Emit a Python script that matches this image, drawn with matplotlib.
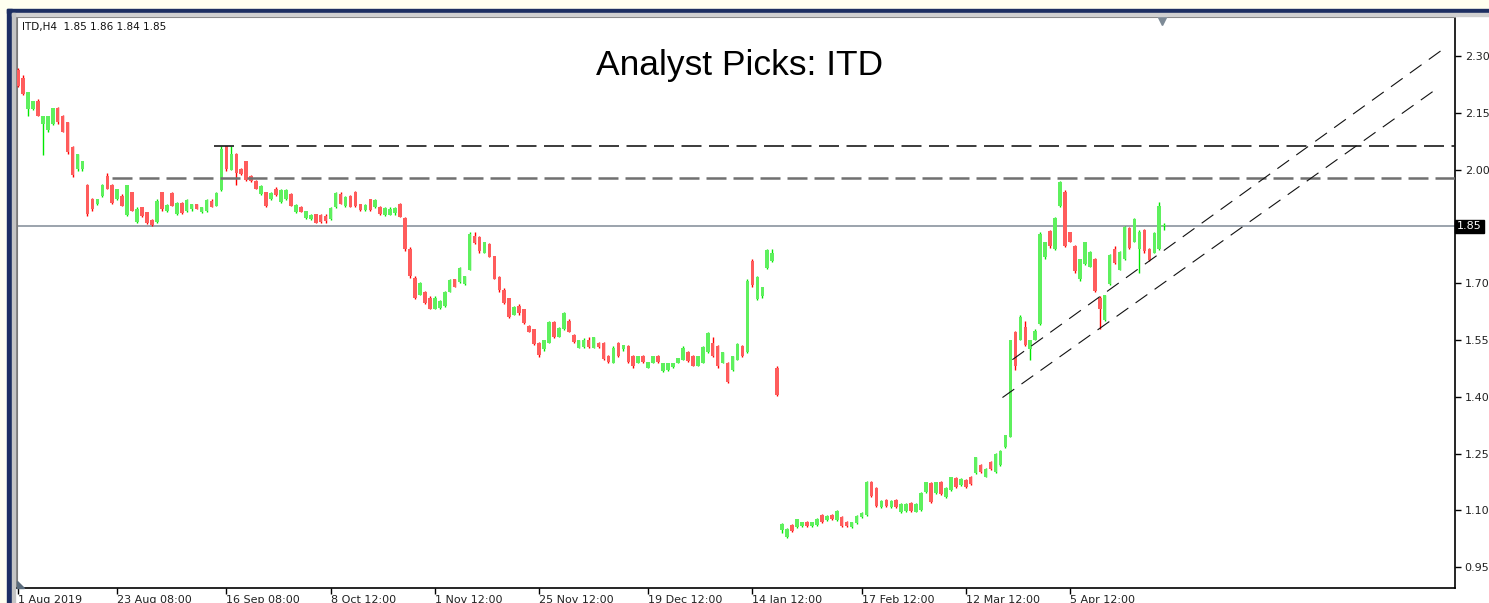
# ITD H4 candlestick chart - MT4 style "Analyst Picks"
import numpy as np
import matplotlib.pyplot as plt
import matplotlib.transforms as mtransforms
from matplotlib.patches import Rectangle, Polygon

opens = [2.263, 2.242, 2.160, 2.160, 2.181, 2.120, 2.104, 2.120, 2.162, 2.141,
         2.125, 2.059, 2.001, 2.001, 1.959, 1.922, 1.908, 1.930, 1.982, 1.959,
         1.922, 1.930, 1.879, 1.940, 1.861, 1.900, 1.887, 1.866, 1.861, 1.940,
         1.890, 1.938, 1.882, 1.912, 1.890, 1.895, 1.908, 1.887, 1.890, 1.918,
         1.905, 1.945, 2.062, 2.000, 2.041, 2.001, 2.022, 1.982, 1.969, 1.935,
         1.940, 1.922, 1.948, 1.914, 1.922, 1.935, 1.887, 1.900, 1.871, 1.869,
         1.882, 1.880, 1.878, 1.869, 1.900, 1.935, 1.903, 1.930, 1.940, 1.908,
         1.892, 1.922, 1.900, 1.900, 1.879, 1.880, 1.885, 1.908, 1.871, 1.789,
         1.715, 1.670, 1.678, 1.662, 1.633, 1.634, 1.640, 1.678, 1.710, 1.702,
         1.697, 1.736, 1.824, 1.821, 1.781, 1.803, 1.771, 1.716, 1.683, 1.660,
         1.617, 1.641, 1.631, 1.586, 1.578, 1.543, 1.525, 1.543, 1.597, 1.559,
         1.578, 1.600, 1.562, 1.530, 1.532, 1.551, 1.530, 1.543, 1.543, 1.509,
         1.490, 1.543, 1.525, 1.533, 1.509, 1.490, 1.508, 1.477, 1.490, 1.508,
         1.467, 1.472, 1.478, 1.490, 1.498, 1.519, 1.509, 1.482, 1.490, 1.517,
         1.541, 1.533, 1.490, 1.490, 1.472, 1.498, 1.533, 1.517, 1.758, 1.657,
         1.665, 1.740, 1.758, 1.477, 1.048, 1.030, 1.062, 1.056, 1.058, 1.070,
         1.058, 1.062, 1.088, 1.075, 1.088, 1.075, 1.083, 1.070, 1.056, 1.067,
         1.083, 1.088, 1.176, 1.160, 1.109, 1.128, 1.109, 1.128, 1.096, 1.098,
         1.119, 1.097, 1.101, 1.149, 1.173, 1.146, 1.176, 1.136, 1.154, 1.186,
         1.168, 1.181, 1.189, 1.199, 1.220, 1.189, 1.228, 1.202, 1.220, 1.268,
         1.295, 1.570, 1.551, 1.583, 1.525, 1.551, 1.591, 1.768, 1.837, 1.790,
         1.903, 1.940, 1.834, 1.797, 1.710, 1.750, 1.744, 1.763, 1.662, 1.604,
         1.697, 1.789, 1.736, 1.763, 1.845, 1.810, 1.790, 1.840, 1.789, 1.781,
         1.790, 1.850]
highs = [2.268, 2.250, 2.205, 2.181, 2.186, 2.141, 2.141, 2.162, 2.165, 2.143,
         2.127, 2.062, 2.041, 2.022, 1.962, 1.924, 1.922, 1.962, 1.990, 1.961,
         1.948, 1.935, 1.959, 1.942, 1.900, 1.902, 1.889, 1.869, 1.922, 1.942,
         1.908, 1.940, 1.914, 1.914, 1.922, 1.910, 1.910, 1.900, 1.922, 1.922,
         1.940, 2.062, 2.062, 2.062, 2.043, 2.004, 2.024, 1.985, 1.972, 1.959,
         1.942, 1.940, 1.953, 1.948, 1.948, 1.938, 1.908, 1.903, 1.890, 1.882,
         1.884, 1.884, 1.882, 1.900, 1.940, 1.940, 1.930, 1.932, 1.943, 1.910,
         1.910, 1.922, 1.922, 1.903, 1.900, 1.900, 1.900, 1.911, 1.874, 1.795,
         1.718, 1.702, 1.680, 1.665, 1.665, 1.655, 1.680, 1.710, 1.712, 1.742,
         1.720, 1.834, 1.834, 1.824, 1.810, 1.806, 1.773, 1.718, 1.688, 1.662,
         1.641, 1.644, 1.633, 1.589, 1.580, 1.546, 1.551, 1.599, 1.599, 1.583,
         1.623, 1.605, 1.565, 1.551, 1.555, 1.559, 1.559, 1.546, 1.546, 1.511,
         1.533, 1.546, 1.538, 1.536, 1.511, 1.509, 1.511, 1.493, 1.509, 1.511,
         1.490, 1.490, 1.490, 1.503, 1.533, 1.522, 1.511, 1.509, 1.533, 1.570,
         1.559, 1.536, 1.519, 1.493, 1.509, 1.541, 1.536, 1.710, 1.763, 1.718,
         1.691, 1.789, 1.789, 1.480, 1.067, 1.054, 1.065, 1.078, 1.070, 1.072,
         1.070, 1.080, 1.090, 1.088, 1.090, 1.101, 1.086, 1.072, 1.070, 1.088,
         1.096, 1.178, 1.178, 1.162, 1.128, 1.130, 1.128, 1.130, 1.120, 1.120,
         1.121, 1.120, 1.149, 1.176, 1.176, 1.176, 1.178, 1.162, 1.189, 1.189,
         1.186, 1.184, 1.191, 1.242, 1.223, 1.212, 1.230, 1.252, 1.260, 1.300,
         1.551, 1.575, 1.617, 1.599, 1.551, 1.578, 1.834, 1.810, 1.840, 1.874,
         1.969, 1.946, 1.836, 1.800, 1.765, 1.810, 1.784, 1.766, 1.665, 1.670,
         1.776, 1.797, 1.784, 1.850, 1.848, 1.871, 1.840, 1.842, 1.792, 1.834,
         1.914, 1.858]
lows = [2.218, 2.196, 2.141, 2.158, 2.141, 2.038, 2.099, 2.118, 2.120, 2.099,
        2.041, 1.980, 1.996, 1.996, 1.877, 1.890, 1.906, 1.928, 1.948, 1.908,
        1.920, 1.903, 1.877, 1.890, 1.859, 1.874, 1.855, 1.850, 1.859, 1.890,
        1.888, 1.903, 1.880, 1.882, 1.888, 1.890, 1.895, 1.885, 1.888, 1.900,
        1.903, 1.943, 1.996, 1.998, 1.959, 1.985, 1.969, 1.967, 1.948, 1.933,
        1.900, 1.920, 1.930, 1.912, 1.920, 1.903, 1.885, 1.887, 1.869, 1.867,
        1.858, 1.858, 1.858, 1.867, 1.898, 1.908, 1.900, 1.900, 1.900, 1.890,
        1.890, 1.890, 1.898, 1.879, 1.877, 1.879, 1.880, 1.874, 1.784, 1.715,
        1.657, 1.668, 1.644, 1.631, 1.631, 1.631, 1.638, 1.676, 1.689, 1.700,
        1.695, 1.734, 1.803, 1.781, 1.779, 1.768, 1.710, 1.678, 1.644, 1.609,
        1.615, 1.617, 1.591, 1.570, 1.538, 1.506, 1.522, 1.541, 1.556, 1.557,
        1.576, 1.570, 1.543, 1.528, 1.530, 1.530, 1.528, 1.530, 1.498, 1.490,
        1.488, 1.506, 1.522, 1.490, 1.477, 1.488, 1.490, 1.475, 1.488, 1.490,
        1.465, 1.467, 1.477, 1.488, 1.496, 1.493, 1.480, 1.480, 1.488, 1.515,
        1.506, 1.477, 1.488, 1.437, 1.467, 1.496, 1.506, 1.515, 1.691, 1.655,
        1.662, 1.738, 1.755, 1.403, 1.040, 1.027, 1.043, 1.054, 1.056, 1.056,
        1.056, 1.060, 1.067, 1.072, 1.075, 1.073, 1.056, 1.056, 1.054, 1.065,
        1.080, 1.086, 1.136, 1.109, 1.107, 1.109, 1.107, 1.106, 1.094, 1.096,
        1.096, 1.096, 1.099, 1.147, 1.120, 1.144, 1.141, 1.134, 1.152, 1.160,
        1.165, 1.160, 1.168, 1.197, 1.199, 1.187, 1.207, 1.200, 1.218, 1.266,
        1.293, 1.472, 1.549, 1.533, 1.498, 1.549, 1.589, 1.765, 1.794, 1.787,
        1.900, 1.795, 1.808, 1.728, 1.707, 1.747, 1.742, 1.678, 1.578, 1.600,
        1.695, 1.750, 1.734, 1.760, 1.789, 1.808, 1.728, 1.781, 1.758, 1.779,
        1.787, 1.840]
closes = [2.221, 2.199, 2.205, 2.181, 2.141, 2.141, 2.141, 2.162, 2.125, 2.099,
          2.046, 1.985, 2.041, 2.022, 1.882, 1.895, 1.922, 1.959, 1.948, 1.911,
          1.948, 1.903, 1.959, 1.890, 1.895, 1.877, 1.858, 1.853, 1.918, 1.895,
          1.906, 1.905, 1.911, 1.885, 1.920, 1.908, 1.896, 1.900, 1.920, 1.902,
          1.938, 2.055, 2.001, 2.041, 1.990, 1.988, 1.972, 1.969, 1.950, 1.957,
          1.903, 1.938, 1.932, 1.945, 1.945, 1.905, 1.906, 1.887, 1.890, 1.880,
          1.860, 1.861, 1.863, 1.898, 1.938, 1.910, 1.928, 1.902, 1.905, 1.892,
          1.906, 1.892, 1.920, 1.882, 1.898, 1.897, 1.898, 1.876, 1.789, 1.720,
          1.662, 1.700, 1.648, 1.633, 1.660, 1.652, 1.678, 1.708, 1.691, 1.740,
          1.718, 1.830, 1.805, 1.784, 1.808, 1.770, 1.712, 1.683, 1.648, 1.612,
          1.638, 1.620, 1.594, 1.572, 1.540, 1.510, 1.549, 1.597, 1.559, 1.581,
          1.620, 1.572, 1.545, 1.549, 1.551, 1.532, 1.557, 1.532, 1.500, 1.492,
          1.530, 1.509, 1.536, 1.492, 1.480, 1.507, 1.492, 1.491, 1.507, 1.491,
          1.488, 1.489, 1.489, 1.502, 1.530, 1.495, 1.482, 1.507, 1.531, 1.568,
          1.509, 1.480, 1.517, 1.440, 1.507, 1.539, 1.509, 1.705, 1.694, 1.716,
          1.689, 1.787, 1.781, 1.405, 1.065, 1.052, 1.046, 1.076, 1.068, 1.058,
          1.069, 1.078, 1.069, 1.086, 1.077, 1.099, 1.058, 1.058, 1.069, 1.086,
          1.094, 1.176, 1.139, 1.112, 1.126, 1.111, 1.126, 1.108, 1.118, 1.117,
          1.098, 1.118, 1.147, 1.174, 1.123, 1.174, 1.143, 1.160, 1.187, 1.162,
          1.184, 1.163, 1.170, 1.240, 1.202, 1.210, 1.209, 1.250, 1.258, 1.298,
          1.549, 1.480, 1.612, 1.536, 1.549, 1.575, 1.830, 1.808, 1.797, 1.871,
          1.967, 1.797, 1.810, 1.731, 1.763, 1.808, 1.782, 1.680, 1.631, 1.668,
          1.774, 1.752, 1.782, 1.848, 1.792, 1.869, 1.834, 1.784, 1.760, 1.832,
          1.905, 1.850]

tick_bars = [0, 20, 42, 63, 84, 105, 127, 148, 170, 191, 212]
tick_labels = ["1 Aug 2019", "23 Aug 08:00", "16 Sep 08:00", "8 Oct 12:00",
               "1 Nov 12:00", "25 Nov 12:00", "19 Dec 12:00", "14 Jan 12:00",
               "17 Feb 12:00", "12 Mar 12:00", "5 Apr 12:00"]
price_ticks = [0.95, 1.10, 1.25, 1.40, 1.55, 1.70, 2.00, 2.15, 2.30]
last_price = 1.85

# drawn objects: horizontal resistance levels and the rising channel
res_levels = [2.062, 1.977]
res_start = [39.5, 18.9]
chan_upper_x = [200.4, 287.2]
chan_upper_y = [1.498, 2.318]
chan_lower_x = [198.4, 286.4]
chan_lower_y = [1.398, 2.218]

W, H = 1489, 603
fig = plt.figure(figsize=(W / 100, H / 100), dpi=100)
fig.patch.set_facecolor("#fffff0")

# window frame around the chart
fig.add_artist(Rectangle((12 / W, 0), 1, (H - 13) / H, transform=fig.transFigure,
                         color="white", zorder=0))
fig.add_artist(Rectangle((7 / W, 1 - 13 / H), 1, 4 / H, transform=fig.transFigure,
                         color="#1d2f62", zorder=1))
fig.add_artist(Rectangle((7 / W, 0), 5 / W, 1 - 9 / H, transform=fig.transFigure,
                         color="#1d2f62", zorder=1))
fig.add_artist(Rectangle((12 / W, 1 - 15.5 / H), 1, 2.5 / H, transform=fig.transFigure,
                         color="#d0d0d0", zorder=1))
fig.add_artist(Rectangle((12 / W, 0), 2.5 / W, 1 - 13 / H, transform=fig.transFigure,
                         color="#c4c4c4", zorder=1))

ax = fig.add_axes([17 / W, (H - 588) / H, (1455 - 17) / W, (588 - 17) / H])
ax.set_xlim(-0.2, 289.6)
ax.set_ylim(0.895, 2.403)

x = np.arange(len(closes))
o = np.array(opens)
c = np.array(closes)
up = c >= o
wick_col = np.where(up, "#00e800", "#ff0000")
body_col = np.where(up, "#5ef05e", "#ff5c5c")
ax.vlines(x, lows, highs, colors=wick_col, lw=1.0, zorder=3)
body_h = np.maximum(np.abs(c - o), 0.003)
ax.bar(x, body_h, bottom=np.minimum(o, c), width=0.72, color=body_col,
       linewidth=0, zorder=4)

# current price line
ax.axhline(last_price, color="#8a949e", lw=1.2, zorder=2)

# resistance levels
ax.hlines(res_levels[0], res_start[0], 289.6, colors="#1a1a1a", lw=1.2,
          linestyles=(0, (12, 4.5)), zorder=5)
ax.hlines(res_levels[1], res_start[1], 289.6, colors="#707070", lw=1.8,
          linestyles=(0, (8, 2.8)), zorder=5)

# channel
ax.plot(chan_upper_x, chan_upper_y, color="#111111", lw=0.8,
        linestyle=(0, (13, 8)), zorder=5)
ax.plot(chan_lower_x, chan_lower_y, color="#111111", lw=0.8,
        linestyle=(0, (13, 8)), zorder=5)

# axes look
for s in ["left", "top"]:
    ax.spines[s].set_color("#7a7a7a")
    ax.spines[s].set_linewidth(1.5)
for s in ["right", "bottom"]:
    ax.spines[s].set_color("black")
    ax.spines[s].set_linewidth(1.2)

ax.yaxis.tick_right()
ax.set_yticks(price_ticks)
ax.set_yticklabels([f"{p:.2f}" for p in price_ticks])
ax.set_xticks(tick_bars)
ax.set_xticklabels(tick_labels)
for lab in ax.get_xticklabels():
    lab.set_horizontalalignment("left")
ax.tick_params(axis="both", direction="out", length=4, width=1, labelsize=8,
               colors="black", labelcolor="#222222")
ax.tick_params(axis="x", pad=1)
ax.tick_params(axis="y", pad=3)

trans = mtransforms.blended_transform_factory(ax.transAxes, ax.transData)
ax.text(1.0015, last_price, f"{last_price:.2f}", transform=trans, fontsize=8,
        color="white", va="center", ha="left",
        bbox=dict(boxstyle="square,pad=0.15", fc="black", ec="black"))
ax.plot([230.6], [2.395], marker="v", color="#7d8a96", ms=7, clip_on=False, zorder=6)

fig.add_artist(Polygon([(17 / W, 1 - 581 / H), (17 / W, 1 - 588 / H), (24 / W, 1 - 588 / H)],
                       closed=True, transform=fig.transFigure, color="#5a6b7c", zorder=6))

fig.text(22 / W, 1 - 27 / H, "ITD,H4  1.85 1.86 1.84 1.85", fontsize=7.5,
         va="center", ha="left", color="#111111")
fig.text(740 / W, 1 - 66 / H, "Analyst Picks: ITD", fontsize=25.5,
         family="Liberation Sans", va="center", ha="center", color="black")

fig.savefig("out.png", dpi=100, facecolor=fig.get_facecolor())
